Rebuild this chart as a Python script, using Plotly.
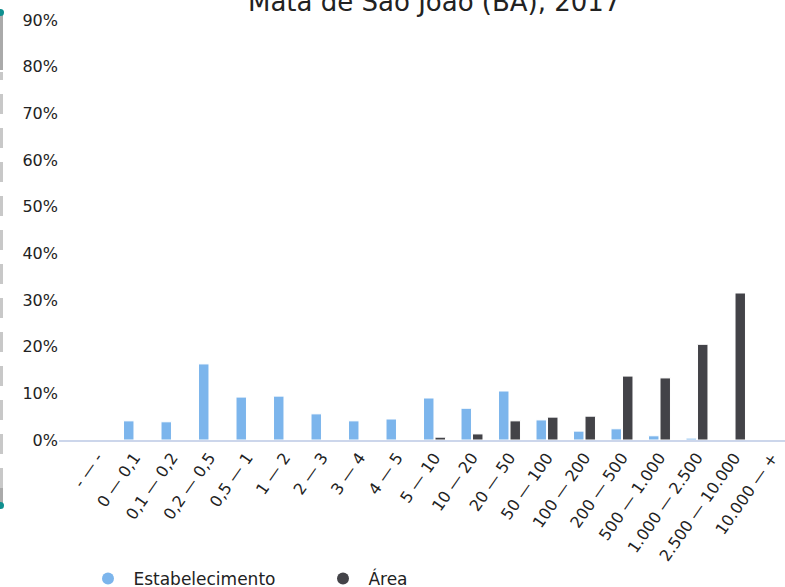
import plotly.graph_objects as go

# faixas de área (ha)
categorias = ["- — -", "0 — 0,1", "0,1 — 0,2", "0,2 — 0,5", "0,5 — 1", "1 — 2",
              "2 — 3", "3 — 4", "4 — 5", "5 — 10", "10 — 20", "20 — 50",
              "50 — 100", "100 — 200", "200 — 500", "500 — 1.000",
              "1.000 — 2.500", "2.500 — 10.000", "10.000 — +"]

estabelecimento = [0, 4.1, 3.9, 16.3, 9.2, 9.4, 5.6, 4.1, 4.5, 9.0, 6.8, 10.5,
                   4.3, 1.9, 2.4, 0.9, 0.4, 0, 0]
area = [0, 0, 0, 0, 0, 0, 0, 0, 0, 0.6, 1.3, 4.1, 4.9, 5.1, 13.7, 13.3, 20.5,
        31.5, 0]

y_ticks = [0, 10, 20, 30, 40, 50, 60, 70, 80, 90]

AZUL = "#7cb5ec"
ESCURO = "#434348"

W, H = 785, 587
L, R, T, B = 59, 0, 20, 147
pw, ph = W - L - R, H - T - B
passo = 37.5  # largura de cada categoria em px
x0_range = -0.5 - (78.25 - L) / passo

fig = go.Figure()

fig.add_trace(go.Bar(x=categorias, y=estabelecimento, name="Estabelecimento",
                     marker_color=AZUL, marker_line=dict(color="white", width=1),
                     showlegend=False))
fig.add_trace(go.Bar(x=categorias, y=area, name="Área",
                     marker_color=ESCURO, marker_line=dict(color="white", width=1),
                     showlegend=False))

# legenda com marcadores circulares
for nome, cor in [("Estabelecimento", AZUL), ("Área", ESCURO)]:
    fig.add_trace(go.Scatter(x=[None], y=[None], mode="markers", name="\u00a0" + nome,
                             marker=dict(color=cor, size=12, symbol="circle")))


def px_x(v):
    return (v - L) / pw


def px_y(v):
    return (H - B - v) / ph


# barra cinza tracejada à esquerda
shapes = [
    dict(type="rect", xref="paper", yref="paper", x0=px_x(0), x1=px_x(3),
         y0=px_y(70), y1=px_y(14), fillcolor="#aaaaaa", line_width=0),
    dict(type="line", xref="paper", yref="paper", x0=px_x(1.5), x1=px_x(1.5),
         y0=px_y(488), y1=px_y(72), line=dict(color="#c8c8c8", width=3, dash="20px,14px")),
    dict(type="rect", xref="paper", yref="paper", x0=px_x(0), x1=px_x(3),
         y0=px_y(505), y1=px_y(488), fillcolor="#aaaaaa", line_width=0),
    dict(type="circle", xref="paper", yref="paper", x0=px_x(-3), x1=px_x(4),
         y0=px_y(16), y1=px_y(9), fillcolor="#0f8f8f", line_width=0),
    dict(type="circle", xref="paper", yref="paper", x0=px_x(-3), x1=px_x(4),
         y0=px_y(509), y1=px_y(502), fillcolor="#0f8f8f", line_width=0),
]

fig.update_layout(
    width=W, height=H,
    margin=dict(l=L, r=R, t=T, b=B, autoexpand=False),
    plot_bgcolor="white", paper_bgcolor="white",
    font=dict(family="DejaVu Sans", size=16, color="#222222"),
    barmode="group", bargap=0.387, bargroupgap=0.09,
    shapes=shapes,
    annotations=[dict(text="Mata de São João (BA), 2017", xref="paper", yref="paper",
                      x=px_x(434), y=px_y(10), xanchor="center", yanchor="bottom",
                      showarrow=False, font=dict(size=26, color="#222222"),
                      yshift=-9)],
    legend=dict(orientation="h", x=px_x(88), y=px_y(579), xanchor="left",
                yanchor="middle", entrywidth=190, entrywidthmode="pixels",
                font=dict(size=17), itemsizing="trace"),
    xaxis=dict(range=[x0_range, x0_range + pw / passo], tickangle=-55, showgrid=False,
               showline=True, linecolor="#ccd6eb", linewidth=2, ticks="",
               tickfont=dict(size=16), automargin=False),
    yaxis=dict(range=[0, 90], tickvals=y_ticks, ticktext=[f"{v}%" for v in y_ticks],
               showgrid=False, zeroline=False, showline=False, ticks="",
               ticklabelstandoff=0, tickfont=dict(size=16), automargin=False),
)

fig.write_html("out.html", config={"displayModeBar": False},
               post_script="document.body.style.margin = '0';")
